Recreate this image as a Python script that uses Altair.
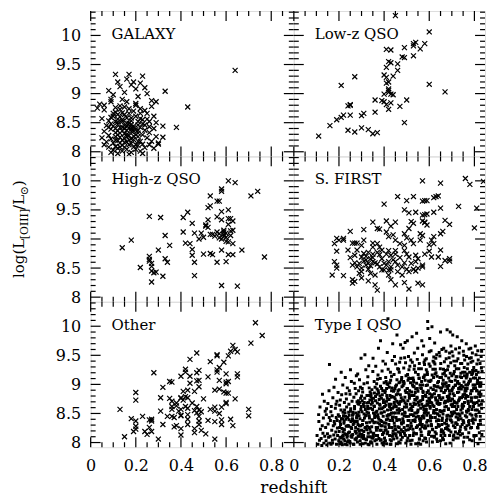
import altair as alt
import pandas as pd

FONT = "DejaVu Serif"

# ---- axis tick values ----
X_MAJOR = [0, 0.2, 0.4, 0.6, 0.8]
X_MINOR = [0.05, 0.1, 0.15, 0.25, 0.3, 0.35, 0.45, 0.5, 0.55, 0.65, 0.7, 0.75, 0.85]
Y_MAJOR = [8, 8.5, 9, 9.5, 10]
Y_MINOR = [8.1, 8.2, 8.3, 8.4, 8.6, 8.7, 8.8, 8.9, 9.1, 9.2, 9.3, 9.4,
           9.6, 9.7, 9.8, 9.9, 10.1, 10.2, 10.3, 10.4]
Y_DOMAIN = [7.92, 10.42]
X_DOM_LEFT = [0, 0.9]
X_DOM_RIGHT = [0, 0.847]
W_LEFT, W_RIGHT, H = 204, 192, 146

LABELS = ["GALAXY", "Low-z QSO", "High-z QSO", "S. FIRST", "Other", "Type I QSO"]

# ---- data: (redshift*100, logL*100) ----
GALAXY = [(33,904),(43,877),(38,842),(32,844),(32,825),(30,813),(64,940),(11,933),(17,933),(23,930),(12,920),(19,920),(4,882),(3,875),(29,886),
(8,905),(10,898),(13,912),(15,902),(18,915),(20,908),(21,895),(24,910),(25,900),(27,888),(14,890),(9,890),(6,880),(22,918),(16,925),
(6,872),(9,886),(13,879),(17,874),(20,883),(24,871),(27,878),(11,868),(15,864),(22,866),(28,861),(5,857),
(8,853),(10,861),(12,847),(14,855),(16,849),(18,858),(19,844),(21,852),(23,848),(25,856),(26,843),(29,850),(7,845),
(9,839),(11,833),(12,851),(13,842),(14,836),(15,845),(16,830),(17,841),(18,835),(19,827),(20,838),(21,832),(22,842),(23,829),(24,837),(26,833),(28,840),(6,835),(8,828),(10,844),
(9,822),(10,815),(11,826),(12,819),(13,832),(14,811),(15,823),(16,817),(17,828),(18,814),(19,821),(20,812),(21,826),(22,818),(23,813),(25,824),(27,818),(29,826),(5,824),(7,817),(13,825),(16,837),(18,842),(11,840),(15,831),(20,829),
(8,808),(10,803),(11,809),(12,806),(13,815),(14,801),(15,808),(16,804),(17,812),(18,799),(19,808),(20,804),(21,811),(22,801),(24,807),(26,812),(28,806),(6,812),(9,799),(12,797),(17,796),(23,797),(30,815),
(14,820),(16,826),(18,822),(12,829),(19,836),(21,818),(15,816),(13,808),(17,820),(11,820),
(9,848),(12,856),(14,867),(16,844),(18,853),(20,861),(22,857),(13,873),(17,866),(19,870),(11,852),(15,840),(21,846),(23,855),(10,866),(24,846),(26,852),(8,842),(12,836),(17,849),(19,841),(14,852),(16,858),(21,837),(13,860),(18,847),(20,880),(15,877),(11,876),(22,874),(9,859),(25,866),(16,886),(14,842),(18,839),(12,864)]

LOWZ = [(45,1034),(60,1006),(54,988),(53,986),(53,982),(58,986),(56,977),(49,979),(41,976),(43,975),(48,963),(49,962),(53,965),(42,955),(43,953),(46,951),(41,945),(46,940),(44,930),(40,932),(41,928),(27,929),(21,914),(41,918),(42,920),(60,916),(42,908),(42,902),(43,899),(44,898),(40,899),(42,905),(67,903),(36,889),(39,888),(40,886),(43,884),(41,881),(42,873),(47,878),(50,889),(25,881),(25,880),(24,879),(36,868),(31,866),(30,862),(25,863),(22,863),(21,859),(19,855),(16,845),(49,850),(24,837),(27,834),(30,841),(33,838),(35,831),(37,833),(11,827)]

HIGHZ = [(14,885),(18,898),(22,851),(26,939),(31,937),(26,870),(26,865),(26,862),(27,858),(27,853),(27,845),(28,842),(29,843),(27,826),(32,836),(30,881),(33,906),(35,889),(33,866),(34,860),(41,937),(43,946),(41,912),(42,893),(44,892),(45,927),(46,910),(45,882),(45,872),(46,860),(46,837),(49,910),(50,874),(51,924),(51,922),(52,920),(52,933),(52,954),(53,957),(53,974),(53,908),(53,875),(54,873),(54,908),(56,938),(56,965),(57,965),(56,860),(57,902),(57,909),(58,982),(58,986),(58,947),(58,933),(58,900),(59,905),(59,912),(59,915),(60,903),(60,910),(58,881),(58,820),(61,935),(61,950),(61,1000),(61,925),(62,914),(60,861),(61,873),(62,935),(63,931),(61,895),(63,892),(63,915),(63,873),(64,997),(65,819),(67,881),(71,974),(74,982),(77,869),(59,908),(60,896),(62,906),(55,905),(56,912),(48,900),(50,903)]

SFIRST = [(57,1000),(65,996),(76,1004),(78,994),(84,999),(40,960),(46,973),(50,966),(53,973),(57,965),(58,966),(59,966),(62,971),(63,973),(64,974),(73,956),(81,953),(49,950),(51,945),(54,946),(57,941),(58,942),(59,943),(62,946),(65,953),(67,932),(69,925),(80,919),(35,929),(37,918),(38,917),(31,916),(41,931),(45,929),(43,922),(52,930),(53,927),(51,918),(57,931),(58,929),(58,928),(25,913),(56,909),(57,906),(59,924),(66,913),(65,909),(62,904),(61,898),(41,912),(42,904),(44,907),(45,898),(49,909),(50,902),(47,892),(49,889),(52,898),(53,892),(56,898),(35,893),(37,892),(38,886),(31,898),(19,901),(20,898),(22,901),(22,898),(18,892),(26,893),(27,893),(28,893),(28,881),(24,881),(19,879),(35,886),(39,881),(42,880),(45,880),(31,875),(33,877),(35,874),(37,877),(27,872),(30,869),(32,870),(41,874),(43,872),(45,874),(49,880),(50,874),(51,869),(54,872),(55,866),(58,874),(60,879),(61,869),(65,881),(64,869),(67,863),(69,866),(69,862),(65,853),(18,861),(19,855),(19,850),(17,838),(22,837),(25,868),(27,859),(26,855),(28,852),(30,850),(30,844),(29,841),(32,855),(33,848),(34,854),(35,861),(37,857),(38,852),(39,847),(41,855),(42,861),(43,852),(43,847),(45,861),(46,855),(48,852),(49,859),(50,848),(51,844),(53,848),(54,845),(55,850),(57,855),(57,852),(26,830),(26,824),(27,827),(30,833),(33,828),(36,821),(37,812),(43,830),(45,821),(49,825),(51,814),(55,824),(57,821),(40,847),(42,838),(36,838),(34,841),(46,844),(48,838),(52,858),(54,861),(30,889),(32,864),(60,890),(62,892),(31,862),(34,866),(36,859),(39,866),(40,858),(44,864),(47,868),(38,873),(42,846),(33,858),(29,858),(35,868)]

OTHER = [(13,857),(15,810),(18,841),(19,819),(20,886),(20,873),(20,837),(20,828),(20,823),(23,845),(24,819),(25,814),(26,839),(27,840),(27,837),(26,826),(27,819),(28,920),(30,806),(31,854),(31,877),(32,831),(32,895),(34,845),(35,905),(36,904),(35,876),(36,871),(36,862),(36,857),(37,843),(36,845),(37,827),(38,829),(38,868),(38,863),(39,854),(40,857),(40,876),(40,877),(41,873),(40,847),(40,846),(40,914),(40,824),(40,813),(41,888),(42,926),(42,921),(42,879),(43,877),(42,862),(43,859),(43,848),(43,840),(43,831),(43,890),(44,914),(44,943),(44,902),(45,868),(46,855),(46,824),(46,817),(46,888),(47,920),(47,906),(48,907),(47,954),(47,862),(48,856),(47,851),(48,845),(48,837),(48,831),(48,896),(48,924),(49,821),(49,853),(50,875),(51,815),(52,838),(52,913),(53,939),(53,857),(55,890),(55,806),(55,854),(55,836),(55,861),(56,925),(56,921),(56,951),(56,949),(57,907),(57,850),(57,929),(57,892),(58,861),(58,831),(58,839),(59,938),(59,887),(60,885),(60,918),(60,904),(60,901),(61,905),(60,867),(60,869),(61,885),(61,949),(62,840),(62,957),(63,829),(63,967),(64,960),(64,875),(65,956),(65,918),(65,913),(70,857),(70,846),(71,971),(73,1006),(76,984)]

# Type I QSO: (redshift*1000, logL*100) -- whole cloud
TYPE1 = [(103,812),(107,797),(111,836),(114,804),(116,861),(118,823),(110,848),
(121,807),(124,795),(126,829),(129,816),(131,842),(133,799),(135,871),(137,811),(139,854),(127,883),
(141,826),(143,803),(144,848),(146,796),(149,815),(151,867),(152,832),(154,809),(156,889),(158,934),(157,843),(145,858),(159,799),
(161,811),(162,838),(165,797),(166,862),(168,821),(170,846),(171,804),(173,877),(175,829),(177,813),(178,895),(164,853),(172,799),(179,836),
(181,832),(183,806),(184,859),(186,818),(188,843),(189,797),(191,871),(193,825),(194,812),(196,886),(197,848),(199,803),(185,909),(192,838),(187,866),
(201,819),(202,845),(204,798),(206,873),(207,831),(209,856),(211,808),(212,882),(214,824),(216,841),(217,899),(219,812),(203,864),(210,921),(215,796),(218,852),
(221,806),(223,837),(224,869),(226,815),(227,851),(229,797),(231,884),(232,828),(234,861),(236,809),(237,894),(239,843),(222,822),(228,912),(233,875),(238,801),(225,856),
(241,829),(242,803),(244,866),(245,847),(247,818),(249,883),(250,799),(252,858),(253,836),(255,905),(257,812),(258,871),(260,841),(246,889),(251,925),(256,824),(243,852),
(261,814),(263,849),(264,797),(266,878),(267,833),(269,862),(271,806),(272,893),(274,826),(275,851),(277,915),(278,808),(280,870),(262,838),(268,902),(273,819),(276,884),(279,845),
(281,836),(282,801),(284,867),(285,823),(287,889),(288,852),(290,811),(291,908),(293,841),(294,797),(296,876),(297,829),(299,862),(283,918),(289,846),(292,815),(295,895),(298,945),(286,872),
(301,809),(302,853),(304,831),(305,887),(307,798),(308,866),(310,819),(311,901),(313,842),(314,876),(316,806),(317,857),(319,925),(303,893),(306,838),(309,812),(312,869),(315,951),(318,826),(300,880),
(321,847),(322,805),(324,881),(325,828),(327,862),(328,913),(330,816),(331,851),(333,796),(334,894),(336,835),(337,873),(339,810),(323,822),(326,903),(329,858),(332,932),(335,842),(338,887),(340,801),(331,869),
(341,818),(343,866),(344,799),(346,891),(347,839),(349,857),(350,922),(352,811),(353,876),(355,834),(356,905),(358,848),(359,803),(342,884),(345,827),(348,869),(351,945),(354,816),(357,862),(360,895),(346,808),(353,851),
(361,835),(362,879),(364,812),(365,852),(367,901),(368,797),(370,868),(371,826),(373,916),(374,843),(376,885),(377,807),(379,858),(363,931),(366,821),(369,892),(372,848),(375,962),(378,874),(380,832),(366,805),(371,909),
(381,821),(382,864),(384,897),(385,838),(387,805),(388,876),(390,851),(391,923),(393,814),(394,889),(396,845),(397,869),(399,800),(383,910),(386,829),(389,858),(392,882),(395,940),(398,817),(400,903),(384,975),(390,836),(396,796),
(401,853),(402,808),(404,886),(405,827),(407,912),(408,864),(410,839),(411,798),(413,901),(414,876),(416,818),(417,1013),(419,847),(403,869),(406,935),(409,822),(412,881),(415,856),(418,926),(400,834),(406,803),(411,893),(417,841),(414,955),
(421,831),(422,874),(424,812),(425,903),(427,848),(428,921),(430,797),(431,866),(433,889),(434,826),(436,941),(437,859),(439,815),(423,895),(426,838),(429,907),(432,851),(435,879),(438,970),(440,820),(427,805),(433,914),(436,843),(424,862),
(441,844),(442,806),(444,917),(445,869),(447,828),(448,893),(450,851),(451,935),(453,812),(454,882),(456,838),(457,908),(459,798),(443,861),(446,948),(449,875),(452,822),(455,899),(458,856),(460,927),(445,833),(450,815),(456,871),(442,888),(457,985),
(461,827),(462,889),(464,851),(465,801),(467,921),(468,866),(470,839),(471,904),(473,813),(474,945),(476,877),(477,834),(479,896),(463,818),(466,858),(469,938),(472,882),(475,805),(478,912),(480,849),(464,926),(470,870),(476,822),(467,891),(473,968),
(481,809),(482,857),(484,898),(485,834),(487,928),(488,872),(490,816),(491,946),(493,851),(494,889),(496,799),(497,915),(499,866),(483,841),(486,905),(489,826),(492,878),(495,937),(498,845),(500,886),(484,962),(490,861),(496,821),(488,903),(493,972),
(501,845),(502,803),(504,917),(505,872),(507,829),(508,948),(510,884),(511,856),(513,812),(514,931),(516,866),(517,903),(519,797),(503,893),(506,838),(509,911),(512,876),(515,824),(518,942),(520,859),(505,808),(510,925),(516,848),(503,975),(513,889),(519,833),
(521,828),(522,881),(524,804),(525,938),(527,862),(528,911),(530,846),(531,817),(533,896),(534,954),(536,874),(537,836),(539,921),(523,855),(526,899),(529,812),(532,868),(535,932),(538,886),(540,798),(524,982),(530,907),(536,851),(527,838),(533,926),(539,866),
(541,873),(542,815),(544,902),(545,851),(547,943),(548,829),(550,888),(551,917),(553,799),(554,864),(556,936),(557,841),(559,899),(543,826),(546,878),(549,962),(552,845),(555,910),(558,871),(560,823),(544,988),(550,856),(556,806),(547,893),(553,927),(559,838),
(561,836),(562,894),(564,818),(565,927),(567,866),(568,845),(570,951),(571,879),(573,803),(574,912),(576,857),(577,938),(579,825),(563,872),(566,905),(569,831),(572,888),(575,966),(578,851),(580,916),(564,812),(570,899),(576,842),(567,975),(573,862),(579,934),(562,797),
(581,852),(582,907),(584,825),(585,879),(587,944),(588,801),(590,866),(591,921),(593,838),(594,996),(596,889),(597,814),(599,935),(583,863),(586,898),(589,847),(592,917),(595,829),(598,876),(600,956),(584,807),(590,886),(596,851),(587,925),(593,1008),(599,869),(581,942),
(601,818),(602,873),(604,931),(605,846),(607,894),(608,958),(610,829),(611,882),(613,916),(614,801),(616,864),(617,940),(619,851),(603,905),(606,837),(609,878),(612,999),(615,822),(618,891),(620,947),(604,859),(610,811),(616,926),(607,869),(613,843),(619,912),(602,979),
(621,862),(622,809),(624,897),(625,935),(627,843),(628,877),(630,920),(631,826),(633,951),(634,868),(636,802),(637,903),(639,839),(623,884),(626,818),(629,945),(632,857),(635,914),(638,872),(640,831),(624,971),(630,889),(636,849),(627,926),(633,806),(639,896),(621,938),
(641,828),(642,881),(644,955),(645,846),(647,912),(648,867),(650,803),(651,936),(653,889),(654,822),(656,960),(657,854),(659,901),(643,838),(646,877),(649,927),(652,812),(655,894),(658,842),(660,918),(644,866),(650,990),(656,831),(647,949),(653,874),(659,808),(641,905),
(661,849),(662,907),(664,816),(665,886),(667,939),(668,833),(670,871),(671,924),(673,798),(674,957),(676,862),(677,897),(679,841),(663,926),(666,855),(669,812),(672,890),(675,944),(678,826),(680,879),(664,962),(670,901),(676,838),(667,868),(673,915),(679,994),(661,820),
(681,871),(682,823),(684,931),(685,858),(687,898),(688,946),(690,812),(691,884),(693,919),(694,839),(696,966),(697,865),(699,905),(683,847),(686,911),(689,876),(692,799),(695,937),(698,852),(700,889),(684,829),(690,954),(696,818),(687,880),(693,990),(699,846),(681,925),
(701,835),(702,892),(704,866),(705,949),(707,811),(708,918),(710,853),(711,881),(713,932),(714,826),(716,899),(717,961),(719,844),(703,875),(706,805),(709,940),(712,862),(715,907),(718,834),(720,927),(704,985),(710,871),(716,818),(707,895),(713,851),(719,913),(701,956),
(721,857),(722,913),(724,831),(725,886),(727,944),(728,808),(730,872),(731,927),(733,849),(734,963),(736,895),(737,822),(739,936),(723,868),(726,905),(729,839),(732,954),(735,877),(738,813),(740,919),(724,982),(730,893),(736,846),(727,862),(733,901),(739,827),(721,940),
(741,841),(742,898),(744,936),(745,863),(747,815),(748,921),(750,882),(751,957),(753,834),(754,904),(756,869),(757,942),(759,826),(743,912),(746,851),(749,879),(752,801),(755,929),(758,888),(760,846),(744,975),(750,838),(756,915),(747,866),(753,950),(759,893),
(761,876),(762,823),(764,911),(765,948),(767,852),(768,893),(770,809),(771,935),(773,867),(774,902),(776,961),(777,838),(779,921),(763,889),(766,844),(769,927),(772,879),(775,817),(778,945),(780,862),(764,970),(770,899),(776,831),(767,914),(773,855),(779,805),
(781,849),(782,906),(784,871),(785,938),(787,826),(788,917),(790,889),(791,954),(793,841),(794,899),(796,862),(797,929),(799,811),(783,884),(786,946),(789,857),(792,919),(795,833),(798,894),(800,868),(784,962),(790,803),(796,911),(787,877),(793,940),
(801,867),(802,923),(804,839),(805,894),(807,951),(808,812),(810,878),(811,935),(813,856),(814,907),(816,825),(817,942),(819,884),(803,899),(806,848),(809,917),(812,869),(815,958),(818,831),(820,903),(804,966),(810,889),(816,798),(807,924),
(821,853),(822,911),(824,879),(825,936),(827,832),(828,897),(830,948),(831,866),(833,814),(834,922),(823,887),(826,845),(829,903),(832,957),(835,872),(824,806)]

# Type I QSO: extra objects in the densest (lower) part of the cloud
TYPE1_CORE = [(203,826),(207,809),(211,841),(214,798),(218,818),(222,833),(226,803),(229,845),(233,814),(236,796),(239,829),(205,836),(216,811),(224,822),(231,840),(209,801),(220,846),(237,812),
(242,817),(245,839),(248,802),(251,854),(254,826),(257,809),(260,847),(263,831),(266,797),(269,858),(272,820),(275,805),(278,842),(244,828),(253,811),(262,852),(271,836),(277,816),
(282,848),(285,811),(288,866),(291,829),(294,803),(297,857),(300,821),(303,872),(306,838),(309,807),(312,862),(315,825),(318,846),(284,831),(293,869),(302,814),(311,849),(317,799),(289,820),
(322,834),(325,868),(328,810),(331,881),(334,846),(337,823),(340,859),(343,801),(346,874),(349,837),(352,815),(355,863),(358,843),(324,852),(333,826),(342,879),(351,808),(357,885),(329,797),
(362,872),(365,826),(368,854),(371,812),(374,889),(377,840),(380,866),(383,804),(386,851),(389,893),(392,829),(395,860),(398,817),(364,845),(373,834),(382,880),(391,799),(397,873),(369,883),(387,821),
(402,862),(405,889),(408,833),(411,871),(414,815),(417,900),(420,848),(423,826),(426,881),(429,857),(432,803),(435,894),(438,838),(404,821),(413,846),(422,866),(431,878),(437,811),(409,905),(427,797),
(442,851),(445,878),(448,823),(451,897),(454,862),(457,808),(460,884),(463,839),(466,903),(469,855),(472,817),(475,871),(478,832),(444,890),(453,843),(462,868),(471,799),(477,908),(447,864),(467,826),
(482,873),(485,836),(488,901),(491,852),(494,812),(497,886),(500,861),(503,829),(506,907),(509,845),(512,879),(515,803),(518,858),(484,819),(493,868),(502,893),(511,838),(517,910),(489,846),(507,822),
(522,887),(525,848),(528,823),(531,904),(534,866),(537,839),(540,892),(543,815),(546,876),(549,853),(552,799),(555,911),(558,831),(524,862),(533,881),(542,844),(551,869),(557,806),(529,897),(547,828),
(562,859),(565,893),(568,827),(571,874),(574,846),(577,913),(580,808),(583,881),(586,852),(589,835),(592,899),(595,864),(598,818),(564,841),(573,886),(582,829),(591,871),(597,906),(567,812),(587,857),
(602,884),(605,842),(608,907),(611,868),(614,823),(617,891),(620,855),(623,811),(626,918),(629,873),(632,837),(635,896),(638,849),(604,862),(613,879),(622,898),(631,815),(637,867),(609,831),(627,851),
(642,866),(645,829),(648,894),(651,853),(654,912),(657,838),(660,877),(663,805),(666,886),(669,861),(672,824),(675,903),(678,846),(644,881),(653,818),(662,897),(671,869),(677,832),(647,855),(667,919),
(682,893),(685,857),(688,821),(691,906),(694,872),(697,838),(700,915),(703,849),(706,884),(709,813),(712,869),(715,898),(718,833),(684,874),(693,845),(702,862),(711,922),(717,808),(689,889),(707,829),
(722,868),(725,902),(728,842),(731,887),(734,819),(737,913),(740,856),(743,877),(746,831),(749,896),(752,863),(755,809),(758,921),(724,849),(733,874),(742,892),(751,836),(757,883),(727,815),(747,859),
(762,899),(765,854),(768,918),(771,871),(774,836),(777,905),(780,862),(783,825),(786,889),(789,847),(792,924),(795,868),(798,812),(764,881),(773,857),(782,909),(791,838),(797,893),(767,829),(787,872),
(802,878),(805,911),(808,845),(811,889),(814,826),(817,921),(820,864),(823,897),(826,838),(829,883),(832,859),(804,856),(813,903),(822,817),(831,928),(819,872)]

PANELS = [(GALAXY, 100, False), (LOWZ, 100, False), (HIGHZ, 100, False),
          (SFIRST, 100, False), (OTHER, 100, False), (TYPE1 + TYPE1_CORE, 1000, True)]

CROSS = "M-1,-1L1,1M1,-1L-1,1"


def make_panel(idx):
    pts, xdiv, dots = PANELS[idx]
    label = LABELS[idx]
    row, col = idx // 2, idx % 2
    W = W_LEFT if col == 0 else W_RIGHT
    xdom = X_DOM_LEFT if col == 0 else X_DOM_RIGHT
    xs = alt.Scale(domain=xdom, nice=False, zero=False)
    ys = alt.Scale(domain=Y_DOMAIN, nice=False, zero=False)
    if row == 2:
        xaxis = alt.Axis(values=X_MAJOR, format="~g", ticks=False, tickSize=0, domain=False,
                         grid=False, labelFont=FONT, labelFontSize=16, labelPadding=10,
                         labelFlush=False, labelOverlap=False, labelColor="black", title=None)
    else:
        xaxis = None
    if col == 0:
        yaxis = alt.Axis(values=Y_MAJOR, format="~g", ticks=False, tickSize=0, domain=False,
                         grid=False, labelFont=FONT, labelFontSize=16, labelPadding=10,
                         labelFlush=False, labelOverlap=False, labelColor="black", title=None)
    else:
        yaxis = None
    X = alt.X("x:Q", scale=xs, axis=xaxis)
    Y = alt.Y("y:Q", scale=ys, axis=yaxis)

    df = pd.DataFrame({"x": [p[0] / xdiv for p in pts], "y": [p[1] / 100 for p in pts]})
    if dots:
        m = alt.Chart(df).mark_square(size=9, color="black", opacity=1, clip=True)
    else:
        m = alt.Chart(df).mark_point(shape=CROSS, size=25, color="black", strokeWidth=1.2,
                                     filled=False, opacity=1, clip=True)
    layers = [m.encode(x=X, y=Y)]

    xmaj = pd.DataFrame({"x": [v for v in X_MAJOR if v <= xdom[1]]})
    xmin = pd.DataFrame({"x": [v for v in X_MINOR if v <= xdom[1]]})
    ymaj = pd.DataFrame({"y": Y_MAJOR})
    ymin = pd.DataFrame({"y": Y_MINOR})
    rule = dict(color="black", strokeWidth=1.2)
    for d, L in ((xmaj, 10), (xmin, 5)):
        layers.append(alt.Chart(d).mark_rule(**rule).encode(x=X, y=alt.value(H), y2=alt.value(H - L)))
        layers.append(alt.Chart(d).mark_rule(**rule).encode(x=X, y=alt.value(0), y2=alt.value(L)))
    for d, L in ((ymaj, 10), (ymin, 5)):
        layers.append(alt.Chart(d).mark_rule(**rule).encode(y=Y, x=alt.value(0), x2=alt.value(L)))
        layers.append(alt.Chart(d).mark_rule(**rule).encode(y=Y, x=alt.value(W), x2=alt.value(W - L)))

    layers.append(
        alt.Chart(alt.Data(values=[{"t": label}])).mark_text(
            align="left", baseline="alphabetic", font=FONT, fontSize=15, color="black"
        ).encode(text="t:N", x=alt.value(21), y=alt.value(28))
    )

    if row == 1 and col == 0:
        # y-axis title: log(L_[OIII]/L_sun) built from pieces
        pieces = [("log(L", 15, -67, 122), ("[OIII]", 11, -63, 83.2), ("/L", 15, -67, 53.7),
                  ("\u2299", 11, -63, 39.1), (")", 15, -67, 29.9)]
        for txt, fs, px, py in pieces:
            layers.append(
                alt.Chart(alt.Data(values=[{"t": txt}])).mark_text(
                    align="left", baseline="alphabetic", font=FONT, fontSize=fs, angle=270,
                    color="black"
                ).encode(text="t:N", x=alt.value(px), y=alt.value(py))
            )
    if row == 2 and col == 0:
        layers.append(
            alt.Chart(alt.Data(values=[{"t": "redshift"}])).mark_text(
                align="center", baseline="alphabetic", font=FONT, fontSize=17, color="black"
            ).encode(text="t:N", x=alt.value(W), y=alt.value(H + 46))
        )

    return alt.layer(*layers).properties(width=W, height=H)


panels = [make_panel(i) for i in range(6)]

chart = (
    alt.concat(*panels, columns=2, spacing=0, bounds="flush")
    .properties(padding={"left": 3, "top": 0, "right": 0, "bottom": 3})
    .configure_view(stroke="black", strokeWidth=2)
    .configure(font=FONT)
)

chart.save("out.html", embed_options={"renderer": "svg", "actions": False})
